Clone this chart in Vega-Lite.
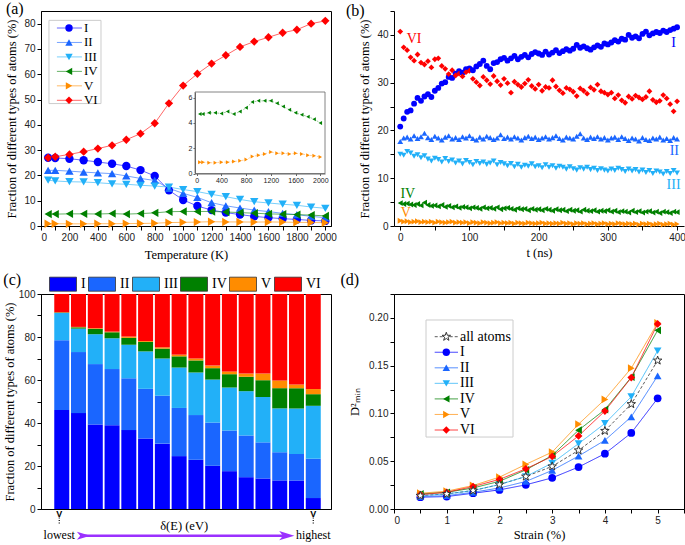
{
"$schema": "https://vega.github.io/schema/vega-lite/v6.json",
"padding": {"left": 2, "top": 0, "right": 0, "bottom": 0},
"autosize": {"type": "pad"},
"columns": 2,
"bounds": "flush",
"spacing": {"row": 68, "column": 63},
"resolve": {"scale": {"color": "independent", "shape": "independent", "strokeDash": "independent"}},
"datasets": {
"a": [
{"T":50,"I":27.0,"II":22.0,"III":18.1,"IV":4.7,"V":0.9,"VI":27.0},
{"T":100,"I":26.9,"II":22.0,"III":17.8,"IV":4.7,"V":0.9,"VI":27.4},
{"T":200,"I":26.6,"II":21.7,"III":17.5,"IV":4.8,"V":0.85,"VI":28.3},
{"T":300,"I":26.0,"II":21.3,"III":17.4,"IV":4.8,"V":0.85,"VI":29.4},
{"T":400,"I":25.3,"II":21.0,"III":17.1,"IV":4.75,"V":0.9,"VI":30.6},
{"T":500,"I":24.6,"II":20.7,"III":16.7,"IV":4.9,"V":0.9,"VI":31.9},
{"T":600,"I":23.7,"II":19.8,"III":16.5,"IV":4.7,"V":0.95,"VI":34.1},
{"T":700,"I":22.1,"II":18.8,"III":16.1,"IV":4.9,"V":1.0,"VI":36.5},
{"T":800,"I":19.8,"II":18.0,"III":15.8,"IV":5.2,"V":1.1,"VI":40.6},
{"T":900,"I":14.1,"II":14.9,"III":15.4,"IV":5.65,"V":1.35,"VI":48.5},
{"T":1000,"I":10.3,"II":12.9,"III":14.4,"IV":5.75,"V":1.45,"VI":55.5},
{"T":1100,"I":7.9,"II":11.3,"III":13.6,"IV":5.75,"V":1.55,"VI":60.2},
{"T":1200,"I":6.3,"II":9.2,"III":12.5,"IV":5.75,"V":1.7,"VI":64.2},
{"T":1300,"I":5.3,"II":8.0,"III":11.6,"IV":5.55,"V":1.6,"VI":67.5},
{"T":1400,"I":4.5,"II":7.1,"III":10.5,"IV":5.3,"V":1.6,"VI":70.8},
{"T":1500,"I":3.8,"II":6.3,"III":9.6,"IV":5.05,"V":1.55,"VI":72.9},
{"T":1600,"I":3.3,"II":5.7,"III":9.1,"IV":4.8,"V":1.6,"VI":74.6},
{"T":1700,"I":2.9,"II":5.0,"III":8.6,"IV":4.65,"V":1.55,"VI":76.4},
{"T":1800,"I":2.6,"II":4.5,"III":8.2,"IV":4.5,"V":1.45,"VI":77.6},
{"T":1900,"I":2.2,"II":3.8,"III":7.5,"IV":4.3,"V":1.4,"VI":80.0},
{"T":2000,"I":2.0,"II":3.3,"III":7.0,"IV":4.0,"V":1.3,"VI":81.1}
],
"b": [
{"t":0,"I":20.8,"II":17.7,"III":15.0,"IV":4.8,"V":1.1,"VI":40.7},
{"t":5,"I":22.5,"II":18.4,"III":14.8,"IV":4.6,"V":0.9,"VI":37.4},
{"t":10,"I":23.9,"II":18.6,"III":15.6,"IV":4.7,"V":1.0,"VI":36.8},
{"t":15,"I":24.2,"II":18.2,"III":15.3,"IV":4.5,"V":0.8,"VI":35.3},
{"t":20,"I":25.6,"II":18.9,"III":14.6,"IV":4.4,"V":0.9,"VI":34.6},
{"t":25,"I":26.8,"II":18.3,"III":14.9,"IV":4.6,"V":1.0,"VI":35.9},
{"t":30,"I":26.2,"II":18.7,"III":14.3,"IV":4.3,"V":0.8,"VI":34.2},
{"t":35,"I":27.1,"II":19.4,"III":14.7,"IV":4.9,"V":0.9,"VI":33.8},
{"t":40,"I":27.6,"II":18.5,"III":14.0,"IV":4.4,"V":0.8,"VI":34.5},
{"t":45,"I":27.0,"II":18.1,"III":13.6,"IV":4.2,"V":0.9,"VI":33.2},
{"t":50,"I":28.3,"II":18.8,"III":14.2,"IV":4.3,"V":0.7,"VI":34.9},
{"t":55,"I":28.9,"II":18.4,"III":13.9,"IV":4.1,"V":0.9,"VI":35.1},
{"t":60,"I":29.8,"II":18.0,"III":13.4,"IV":4.4,"V":0.8,"VI":33.5},
{"t":65,"I":30.1,"II":18.6,"III":14.1,"IV":4.0,"V":0.7,"VI":32.9},
{"t":70,"I":31.2,"II":18.9,"III":13.5,"IV":4.2,"V":0.8,"VI":31.8},
{"t":75,"I":31.0,"II":18.2,"III":13.8,"IV":3.9,"V":0.9,"VI":32.6},
{"t":80,"I":31.9,"II":18.5,"III":13.2,"IV":4.1,"V":0.7,"VI":31.5},
{"t":85,"I":32.4,"II":18.1,"III":13.6,"IV":3.8,"V":0.8,"VI":31.9},
{"t":90,"I":32.1,"II":18.7,"III":13.0,"IV":4.0,"V":0.7,"VI":31.3},
{"t":95,"I":32.8,"II":18.4,"III":13.7,"IV":3.9,"V":0.8,"VI":32.2},
{"t":100,"I":33.0,"II":18.9,"III":13.3,"IV":3.7,"V":0.6,"VI":32.5},
{"t":105,"I":32.6,"II":18.3,"III":12.8,"IV":3.9,"V":0.8,"VI":30.8},
{"t":110,"I":33.4,"II":18.0,"III":13.5,"IV":3.8,"V":0.7,"VI":30.1},
{"t":115,"I":33.9,"II":18.6,"III":13.1,"IV":3.6,"V":0.6,"VI":29.4},
{"t":120,"I":34.6,"II":18.2,"III":13.4,"IV":3.9,"V":0.8,"VI":31.2},
{"t":125,"I":33.5,"II":18.8,"III":12.9,"IV":3.7,"V":0.7,"VI":30.5},
{"t":130,"I":32.8,"II":18.5,"III":13.2,"IV":3.8,"V":0.6,"VI":29.7},
{"t":135,"I":34.1,"II":18.1,"III":13.6,"IV":3.6,"V":0.7,"VI":31.4},
{"t":140,"I":34.3,"II":18.4,"III":12.8,"IV":3.9,"V":0.8,"VI":30.3},
{"t":145,"I":34.9,"II":19.1,"III":13.3,"IV":3.5,"V":0.6,"VI":29.5},
{"t":150,"I":35.2,"II":18.3,"III":13.0,"IV":3.7,"V":0.7,"VI":30.8},
{"t":155,"I":34.6,"II":18.6,"III":12.6,"IV":3.8,"V":0.6,"VI":29.9},
{"t":160,"I":35.1,"II":18.2,"III":13.1,"IV":3.6,"V":0.7,"VI":27.9},
{"t":165,"I":35.6,"II":18.7,"III":12.4,"IV":3.4,"V":0.5,"VI":30.2},
{"t":170,"I":34.9,"II":18.4,"III":12.9,"IV":3.7,"V":0.7,"VI":29.6},
{"t":175,"I":35.4,"II":18.0,"III":12.3,"IV":3.5,"V":0.6,"VI":29.1},
{"t":180,"I":35.8,"II":18.5,"III":12.7,"IV":3.6,"V":0.5,"VI":29.8},
{"t":185,"I":35.3,"II":18.8,"III":12.5,"IV":3.3,"V":0.7,"VI":30.6},
{"t":190,"I":36.0,"II":18.3,"III":13.0,"IV":3.6,"V":0.6,"VI":29.3},
{"t":195,"I":36.4,"II":18.6,"III":12.4,"IV":3.4,"V":0.5,"VI":28.7},
{"t":200,"I":36.1,"II":18.1,"III":12.6,"IV":3.5,"V":0.6,"VI":29.6},
{"t":205,"I":35.8,"II":18.4,"III":12.2,"IV":3.3,"V":0.7,"VI":28.3},
{"t":210,"I":36.5,"II":18.7,"III":12.8,"IV":3.6,"V":0.5,"VI":29.1},
{"t":215,"I":35.9,"II":18.2,"III":12.3,"IV":3.4,"V":0.6,"VI":28.9},
{"t":220,"I":36.3,"II":18.5,"III":12.6,"IV":3.2,"V":0.5,"VI":30.5},
{"t":225,"I":36.8,"II":18.9,"III":12.1,"IV":3.5,"V":0.6,"VI":29.2},
{"t":230,"I":36.2,"II":18.3,"III":12.5,"IV":3.3,"V":0.5,"VI":28.4},
{"t":235,"I":36.6,"II":18.0,"III":12.3,"IV":3.4,"V":0.7,"VI":27.8},
{"t":240,"I":37.0,"II":18.6,"III":11.9,"IV":3.1,"V":0.5,"VI":28.9},
{"t":245,"I":36.7,"II":18.4,"III":12.4,"IV":3.4,"V":0.6,"VI":28.6},
{"t":250,"I":37.1,"II":18.2,"III":12.0,"IV":3.2,"V":0.4,"VI":28.1},
{"t":255,"I":37.9,"II":18.8,"III":11.7,"IV":3.3,"V":0.6,"VI":27.2},
{"t":260,"I":37.3,"II":19.3,"III":12.2,"IV":3.0,"V":0.5,"VI":28.8},
{"t":265,"I":37.6,"II":18.4,"III":11.9,"IV":3.4,"V":0.6,"VI":28.3},
{"t":270,"I":37.2,"II":18.1,"III":12.3,"IV":3.2,"V":0.4,"VI":27.7},
{"t":275,"I":36.9,"II":18.6,"III":11.8,"IV":3.1,"V":0.5,"VI":29.0},
{"t":280,"I":37.4,"II":18.3,"III":12.1,"IV":3.3,"V":0.6,"VI":28.5},
{"t":285,"I":37.8,"II":18.7,"III":11.6,"IV":3.0,"V":0.4,"VI":29.6},
{"t":290,"I":37.5,"II":18.2,"III":12.0,"IV":3.2,"V":0.5,"VI":28.2},
{"t":295,"I":38.2,"II":18.5,"III":11.7,"IV":3.1,"V":0.6,"VI":27.9},
{"t":300,"I":38.0,"II":18.0,"III":11.5,"IV":3.3,"V":0.4,"VI":27.5},
{"t":305,"I":38.4,"II":18.4,"III":11.9,"IV":3.0,"V":0.5,"VI":27.9},
{"t":310,"I":38.9,"II":18.6,"III":11.6,"IV":3.2,"V":0.4,"VI":26.7},
{"t":315,"I":38.6,"II":18.1,"III":12.1,"IV":2.9,"V":0.6,"VI":27.4},
{"t":320,"I":39.2,"II":18.7,"III":11.8,"IV":3.1,"V":0.5,"VI":26.3},
{"t":325,"I":39.0,"II":18.3,"III":11.4,"IV":3.0,"V":0.4,"VI":25.8},
{"t":330,"I":40.0,"II":17.9,"III":11.9,"IV":2.8,"V":0.5,"VI":27.1},
{"t":335,"I":39.4,"II":18.4,"III":11.5,"IV":3.2,"V":0.4,"VI":26.6},
{"t":340,"I":39.7,"II":18.2,"III":11.8,"IV":2.9,"V":0.5,"VI":27.3},
{"t":345,"I":39.3,"II":17.8,"III":11.3,"IV":3.1,"V":0.3,"VI":26.9},
{"t":350,"I":40.2,"II":18.5,"III":11.7,"IV":2.8,"V":0.5,"VI":26.5},
{"t":355,"I":40.7,"II":18.1,"III":11.2,"IV":3.0,"V":0.4,"VI":27.0},
{"t":360,"I":39.9,"II":17.9,"III":11.6,"IV":3.1,"V":0.5,"VI":28.2},
{"t":365,"I":40.3,"II":18.4,"III":11.0,"IV":2.8,"V":0.3,"VI":26.4},
{"t":370,"I":40.6,"II":18.2,"III":11.5,"IV":3.0,"V":0.4,"VI":25.9},
{"t":375,"I":40.4,"II":18.6,"III":11.3,"IV":2.7,"V":0.5,"VI":26.2},
{"t":380,"I":40.9,"II":18.0,"III":10.9,"IV":3.0,"V":0.3,"VI":27.4},
{"t":385,"I":40.6,"II":18.3,"III":11.4,"IV":2.9,"V":0.4,"VI":26.7},
{"t":390,"I":41.0,"II":17.9,"III":11.0,"IV":2.7,"V":0.5,"VI":25.5},
{"t":395,"I":41.3,"II":18.5,"III":11.6,"IV":3.0,"V":0.3,"VI":24.0},
{"t":400,"I":41.6,"II":18.2,"III":11.1,"IV":2.9,"V":0.4,"VI":26.1}
],
"c": [
{"b":1,"I":46.0,"II":32.5,"III":12.7,"IV":0.2,"V":0.1,"VI":8.5},
{"b":2,"I":44.6,"II":28.4,"III":10.9,"IV":0.6,"V":0.2,"VI":15.3},
{"b":3,"I":39.3,"II":28.1,"III":13.9,"IV":2.5,"V":0.3,"VI":15.9},
{"b":4,"I":39.0,"II":26.1,"III":14.3,"IV":2.8,"V":0.3,"VI":17.5},
{"b":5,"I":36.7,"II":24.1,"III":15.6,"IV":3.2,"V":0.6,"VI":19.8},
{"b":6,"I":32.8,"II":23.1,"III":17.4,"IV":4.4,"V":0.4,"VI":21.9},
{"b":7,"I":30.4,"II":22.3,"III":17.3,"IV":4.6,"V":0.6,"VI":24.8},
{"b":8,"I":24.6,"II":22.4,"III":18.8,"IV":5.2,"V":0.8,"VI":28.2},
{"b":9,"I":22.9,"II":20.8,"III":19.8,"IV":5.6,"V":0.9,"VI":30.0},
{"b":10,"I":20.1,"II":20.1,"III":20.0,"IV":5.3,"V":1.2,"VI":33.3},
{"b":11,"I":17.6,"II":18.9,"III":20.0,"IV":6.2,"V":1.3,"VI":36.0},
{"b":12,"I":14.8,"II":19.4,"III":20.6,"IV":6.7,"V":1.5,"VI":37.0},
{"b":13,"I":14.2,"II":16.8,"III":21.1,"IV":7.8,"V":3.1,"VI":37.0},
{"b":14,"I":13.3,"II":13.1,"III":20.4,"IV":9.4,"V":3.6,"VI":40.2},
{"b":15,"I":13.3,"II":12.3,"III":21.2,"IV":9.4,"V":1.7,"VI":42.1},
{"b":16,"I":5.1,"II":18.3,"III":24.6,"IV":5.4,"V":2.4,"VI":44.2}
],
"d": [
{"x":0.5,"all atoms":0.014,"I":0.0123,"II":0.013,"III":0.014,"IV":0.0158,"V":0.0165,"VI":0.015},
{"x":1.0,"all atoms":0.0158,"I":0.013,"II":0.014,"III":0.0158,"IV":0.0175,"V":0.0186,"VI":0.0175},
{"x":1.5,"all atoms":0.0193,"I":0.0165,"II":0.0175,"III":0.0193,"IV":0.022,"V":0.0246,"VI":0.0235},
{"x":2.0,"all atoms":0.0256,"I":0.020,"II":0.022,"III":0.0256,"IV":0.029,"V":0.0333,"VI":0.031},
{"x":2.5,"all atoms":0.034,"I":0.0253,"II":0.0288,"III":0.034,"IV":0.041,"V":0.0467,"VI":0.042},
{"x":3.0,"all atoms":0.0446,"I":0.0326,"II":0.0404,"III":0.048,"IV":0.056,"V":0.0596,"VI":0.055},
{"x":3.5,"all atoms":0.0614,"I":0.0439,"II":0.0554,"III":0.0684,"IV":0.0825,"V":0.0888,"VI":0.0765},
{"x":4.0,"all atoms":0.0818,"I":0.0579,"II":0.0719,"III":0.0895,"IV":0.104,"V":0.1147,"VI":0.1025},
{"x":4.5,"all atoms":0.1098,"I":0.0796,"II":0.0965,"III":0.1175,"IV":0.1379,"V":0.1474,"VI":0.1375},
{"x":5.0,"all atoms":0.1554,"I":0.1158,"II":0.1393,"III":0.1656,"IV":0.187,"V":0.1947,"VI":0.1937}
],
"series6": [{"s":"I"},{"s":"II"},{"s":"III"},{"s":"IV"},{"s":"V"},{"s":"VI"}],
"series7": [{"s":"all atoms"},{"s":"I"},{"s":"II"},{"s":"III"},{"s":"IV"},{"s":"V"},{"s":"VI"}]
},
"concat": [
{
"title": {"text": "(a)", "offset": -6},
"width": 290, "height": 215,
"layer": [
 {
  "encoding": {"x": {"type": "quantitative", "scale": {"domain": [0, 2040], "nice": false}, "axis": {"title": "Temperature (K)", "values": [0,100,200,300,400,500,600,700,800,900,1000,1100,1200,1300,1400,1500,1600,1700,1800,1900,2000], "format": "d", "labelExpr": "datum.value % 200 === 0 ? datum.label : ''", "titlePadding": 6}}},
  "layer": [
   {
    "encoding": {"y": {"type": "quantitative", "scale": {"domain": [0, 85], "nice": false}, "axis": {"title": "Fraction of different types of atoms (%)", "values": [0,10,20,30,40,50,60,70,80], "titlePadding": 5}}},
    "layer": [
     {"data": {"values": [{}]}, "mark": {"type": "rect", "fill": "white", "stroke": "#cccccc", "strokeWidth": 1},
      "encoding": {"x": {"datum": 56}, "x2": {"datum": 422}, "y": {"datum": 81.3}, "y2": {"datum": 48.4}}},
     {"data": {"name": "a"}, "transform": [{"fold": ["I","II","III","IV","V","VI"], "as": ["s","v"]}],
      "mark": {"type": "line", "strokeWidth": 1, "opacity": 0.6},
      "encoding": {"x": {"field": "T"}, "y": {"field": "v"},
        "color": {"field": "s", "type": "nominal", "scale": {"domain": ["I","II","III","IV","V","VI"], "range": ["#0000ff","#1a66ff","#22b0f8","#008000","#ff8c00","#ff0000"]}, "legend": null}}},
     {"data": {"name": "a"}, "transform": [{"fold": ["I","II","III","IV","V","VI"], "as": ["s","v"]}],
      "mark": {"type": "point", "filled": true, "size": 70, "opacity": 1},
      "encoding": {"x": {"field": "T"}, "y": {"field": "v"},
        "color": {"field": "s", "type": "nominal", "scale": {"domain": ["I","II","III","IV","V","VI"], "range": ["#0000ff","#1a66ff","#22b0f8","#008000","#ff8c00","#ff0000"]}, "legend": null},
        "shape": {"field": "s", "type": "nominal", "scale": {"domain": ["I","II","III","IV","V","VI"], "range": ["circle","triangle-up","triangle-down","triangle-left","triangle-right","diamond"]}, "legend": null}}}
    ]
   },
   {
    "data": {"name": "series6"},
    "encoding": {
      "y": {"field": "s", "type": "nominal", "scale": {"type": "point", "domain": ["I","II","III","IV","V","VI"], "range": [17, 89.3], "padding": 0}, "axis": null},
      "color": {"field": "s", "type": "nominal", "scale": {"domain": ["I","II","III","IV","V","VI"], "range": ["#0000ff","#1a66ff","#22b0f8","#008000","#ff8c00","#ff0000"]}, "legend": null}
    },
    "layer": [
     {"mark": {"type": "rule", "strokeWidth": 1, "opacity": 0.6}, "encoding": {"x": {"datum": 112}, "x2": {"datum": 288}}},
     {"mark": {"type": "point", "filled": true, "size": 55, "opacity": 1},
      "encoding": {"x": {"datum": 197},
        "shape": {"field": "s", "type": "nominal", "scale": {"domain": ["I","II","III","IV","V","VI"], "range": ["circle","triangle-up","triangle-down","triangle-left","triangle-right","diamond"]}, "legend": null}}},
     {"mark": {"type": "text", "align": "left", "baseline": "middle", "font": "Liberation Serif", "fontSize": 13},
      "encoding": {"x": {"datum": 302}, "text": {"field": "s"}, "color": {"value": "black"}}}
    ]
   }
  ],
  "resolve": {"scale": {"y": "independent"}}
 },
 {
  "layer": [
   {"data": {"values": [{}]},
    "mark": {"type": "rect", "fill": "white", "stroke": "#666666", "strokeWidth": 0.8},
    "encoding": {
     "x": {"datum": -28, "type": "quantitative", "scale": {"domain": [-28, 2076], "range": [154, 284], "nice": false, "zero": false}, "axis": {"orient": "bottom", "offset": -52.5, "values": [0,400,800,1200,1600,2000], "format": "d", "labelFontSize": 7, "tickSize": 2, "labelPadding": 1, "title": null, "zindex": 1, "domainColor": "#666666", "tickColor": "#666666"}},
     "x2": {"datum": 2076},
     "y": {"datum": 0, "type": "quantitative", "scale": {"domain": [0, 6.45], "range": [162.5, 81], "nice": false, "zero": false}, "axis": {"orient": "left", "offset": -154, "values": [0,2,4,6], "labelFontSize": 7, "tickSize": 2, "labelPadding": 1, "title": null, "zindex": 1, "domainColor": "#666666", "tickColor": "#666666"}},
     "y2": {"datum": 6.45}
    }},
   {"data": {"name": "a"},
    "transform": [{"fold": ["IV","V"], "as": ["s","v"]}],
    "encoding": {
     "x": {"field": "T", "type": "quantitative", "scale": {"domain": [-28, 2076], "range": [154, 284], "nice": false, "zero": false}, "axis": {"orient": "bottom", "offset": -52.5, "values": [0,400,800,1200,1600,2000], "format": "d", "labelFontSize": 7, "tickSize": 2, "labelPadding": 1, "title": null, "zindex": 1, "domainColor": "#666666", "tickColor": "#666666"}},
     "y": {"field": "v", "type": "quantitative", "scale": {"domain": [0, 6.45], "range": [162.5, 81], "nice": false, "zero": false}, "axis": {"orient": "left", "offset": -154, "values": [0,2,4,6], "labelFontSize": 7, "tickSize": 2, "labelPadding": 1, "title": null, "zindex": 1, "domainColor": "#666666", "tickColor": "#666666"}},
     "color": {"field": "s", "type": "nominal", "scale": {"domain": ["IV","V"], "range": ["#008000","#ff8c00"]}, "legend": null}
    },
    "layer": [
     {"mark": {"type": "line", "strokeWidth": 0.8, "opacity": 0.5, "strokeDash": [2, 1.5]}},
     {"mark": {"type": "point", "filled": true, "size": 16, "opacity": 1},
      "encoding": {"shape": {"field": "s", "type": "nominal", "scale": {"domain": ["IV","V"], "range": ["triangle-left","triangle-right"]}, "legend": null}}}
    ]}
  ]
 }
],
"resolve": {"scale": {"x": "independent", "y": "independent", "color": "independent", "shape": "independent"}, "axis": {"x": "independent", "y": "independent"}}
},
{
"title": {"text": "(b)", "offset": -8, "dx": -13},
"width": 290, "height": 215,
"view": {"stroke": null},
"encoding": {
 "x": {"type": "quantitative", "scale": {"domain": [-9, 410], "nice": false, "zero": false}, "axis": {"title": "t (ns)", "values": [0,50,100,150,200,250,300,350,400], "labelExpr": "datum.value % 100 === 0 ? datum.label : ''", "titlePadding": 4}},
 "y": {"type": "quantitative", "scale": {"domain": [0, 45], "nice": false}, "axis": {"title": "Fraction of different types of atoms (%)", "values": [0,5,10,15,20,25,30,35,40,45], "labelExpr": "datum.value % 10 === 0 ? datum.label : ''", "titlePadding": 5}}
},
"layer": [
 {"data": {"name": "b"},
  "transform": [{"fold": ["I","II","III","IV","V","VI"], "as": ["s","v"]}],
  "mark": {"type": "point", "filled": true, "size": 34, "opacity": 1},
  "encoding": {
   "x": {"field": "t"},
   "y": {"field": "v"},
   "color": {"field": "s", "type": "nominal", "scale": {"domain": ["I","II","III","IV","V","VI"], "range": ["#0000ff","#1a66ff","#22b0f8","#008000","#ff8c00","#ff0000"]}, "legend": null},
   "shape": {"field": "s", "type": "nominal", "scale": {"domain": ["I","II","III","IV","V","VI"], "range": ["circle","triangle-up","triangle-down","triangle-left","triangle-right","diamond"]}, "legend": null}
  }},
 {"data": {"values": [{}]}, "mark": {"type": "text", "text": "VI", "color": "#ff0000", "font": "Liberation Serif", "fontSize": 14}, "encoding": {"x": {"datum": 20}, "y": {"datum": 39.2}}},
 {"data": {"values": [{}]}, "mark": {"type": "text", "text": "I", "color": "#0000ff", "font": "Liberation Serif", "fontSize": 14}, "encoding": {"x": {"datum": 395}, "y": {"datum": 38.4}}},
 {"data": {"values": [{}]}, "mark": {"type": "text", "text": "II", "color": "#1a66ff", "font": "Liberation Serif", "fontSize": 14}, "encoding": {"x": {"datum": 396}, "y": {"datum": 15.6}}},
 {"data": {"values": [{}]}, "mark": {"type": "text", "text": "III", "color": "#22b0f8", "font": "Liberation Serif", "fontSize": 14}, "encoding": {"x": {"datum": 395}, "y": {"datum": 8.5}}},
 {"data": {"values": [{}]}, "mark": {"type": "text", "text": "IV", "color": "#008000", "font": "Liberation Serif", "fontSize": 14}, "encoding": {"x": {"datum": 11}, "y": {"datum": 6.65}}},
 {"data": {"values": [{}]}, "mark": {"type": "text", "text": "V", "color": "#ff8c00", "font": "Liberation Serif", "fontSize": 14}, "encoding": {"x": {"datum": 8}, "y": {"datum": 2.65}}}
]
},
{
"title": {"text": "(c)", "offset": -18},
"width": 290, "height": 215,
"encoding": {
 "x": {"type": "quantitative", "scale": {"domain": [0.06, 16.76], "nice": false, "zero": false}, "axis": {"title": null, "labels": false, "ticks": false}},
 "y": {"type": "quantitative", "scale": {"domain": [0, 100], "nice": false}, "axis": {"title": "Fraction of different types of atoms (%)", "values": [0,10,20,30,40,50,60,70,80,90,100], "labelExpr": "datum.value % 20 === 0 ? datum.label : ''", "titlePadding": 2}}
},
"layer": [
 {"data": {"name": "c"},
  "transform": [{"fold": ["I","II","III","IV","V","VI"], "as": ["s","v"]}],
  "mark": {"type": "bar", "size": 15},
  "encoding": {
   "x": {"field": "b"},
   "y": {"field": "v", "stack": "zero"},
   "order": {"field": "s", "sort": "ascending"},
   "color": {"field": "s", "type": "nominal", "scale": {"domain": ["I","II","III","IV","V","VI"], "range": ["#0000ff","#1a66ff","#22b0f8","#008000","#ff8c00","#ff0000"]},
     "legend": {"title": null, "orient": "none", "legendX": 8, "legendY": -24, "direction": "horizontal", "columns": 6, "symbolType": "M-1,-0.52H1V0.52H-1Z", "symbolSize": 729, "symbolStrokeColor": "#333333", "symbolStrokeWidth": 0.8, "symbolOpacity": 1, "labelFontSize": 14, "labelOffset": 4, "columnPadding": 0, "padding": 0}}
  }},
 {"data": {"values": [{}]}, "mark": {"type": "text", "text": "V", "font": "Liberation Sans", "fontWeight": "bold", "fontSize": 9}, "encoding": {"x": {"datum": 0.85}, "y": {"datum": -2.4}}},
 {"data": {"values": [{}]}, "mark": {"type": "text", "text": "V", "font": "Liberation Sans", "fontWeight": "bold", "fontSize": 9}, "encoding": {"x": {"datum": 16}, "y": {"datum": -2.4}}},
 {"data": {"values": [{}]}, "mark": {"type": "rule", "strokeDash": [1, 1.5], "strokeWidth": 1.2, "color": "black"}, "encoding": {"x": {"datum": 0.85}, "y": {"datum": -4}, "y2": {"datum": -7.2}}},
 {"data": {"values": [{}]}, "mark": {"type": "rule", "strokeDash": [1, 1.5], "strokeWidth": 1.2, "color": "black"}, "encoding": {"x": {"datum": 16}, "y": {"datum": -4}, "y2": {"datum": -7.2}}},
 {"data": {"values": [{}]}, "mark": {"type": "text", "text": "lowest", "font": "Liberation Serif", "fontSize": 12}, "encoding": {"x": {"datum": 0.85}, "y": {"datum": -12.3}}},
 {"data": {"values": [{}]}, "mark": {"type": "text", "text": "highest", "font": "Liberation Serif", "fontSize": 12}, "encoding": {"x": {"datum": 16}, "y": {"datum": -12.3}}},
 {"data": {"values": [{}]}, "mark": {"type": "text", "text": "δ(E) (eV)", "font": "Liberation Serif", "fontSize": 12.5}, "encoding": {"x": {"datum": 8.3}, "y": {"datum": -7.9}}},
 {"data": {"values": [{}]}, "mark": {"type": "rule", "strokeWidth": 2.5, "color": "#9b30ff"}, "encoding": {"x": {"datum": 2.1}, "x2": {"datum": 14.3}, "y": {"datum": -12.4}}},
 {"data": {"values": [{}]}, "mark": {"type": "point", "shape": "M1,0L-1,-0.6L-0.5,0L-1,0.6Z", "filled": true, "size": 230, "color": "#9b30ff", "opacity": 1}, "encoding": {"x": {"datum": 14.42}, "y": {"datum": -12.4}}},
 {"data": {"values": [{}]}, "mark": {"type": "point", "shape": "M1,0L-1,-0.6L-0.5,0L-1,0.6Z", "filled": true, "size": 180, "color": "#9b30ff", "opacity": 1}, "encoding": {"x": {"datum": 2.3}, "y": {"datum": -12.4}}}
]
},
{
"title": {"text": "(d)", "offset": 6, "dx": -8},
"width": 290, "height": 215,
"encoding": {
 "x": {"type": "quantitative", "scale": {"domain": [0, 5.5], "nice": false}, "axis": {"title": "Strain (%)", "values": [0,0.5,1,1.5,2,2.5,3,3.5,4,4.5,5,5.5], "labelExpr": "datum.value % 1 === 0 ? format(datum.value, 'd') : ''", "titlePadding": 3}}
},
"layer": [
 {
  "encoding": {"y": {"type": "quantitative", "scale": {"domain": [0, 0.225], "nice": false}, "axis": {"title": "D²ₘᵢₙ", "values": [0,0.025,0.05,0.075,0.1,0.125,0.15,0.175,0.2,0.225], "labelExpr": "abs(datum.value*20 - round(datum.value*20)) < 0.000001 ? format(datum.value, '.2f') : ''", "titlePadding": 7}}},
  "layer": [
   {"data": {"values": [{}]}, "mark": {"type": "rect", "fill": "white", "stroke": "#cccccc", "strokeWidth": 1},
    "encoding": {"x": {"datum": 0.607}, "x2": {"datum": 2.257}, "y": {"datum": 0.1978}, "y2": {"datum": 0.0753}}},
   {"data": {"name": "d"}, "transform": [{"fold": ["all atoms","I","II","III","IV","V","VI"], "as": ["s","v"]}],
    "mark": {"type": "line", "strokeWidth": 1, "opacity": 0.8},
    "encoding": {"x": {"field": "x"}, "y": {"field": "v"},
     "color": {"field": "s", "type": "nominal", "scale": {"domain": ["all atoms","I","II","III","IV","V","VI"], "range": ["#333333","#0000ff","#1a66ff","#22b0f8","#008000","#ff8c00","#ff0000"]}, "legend": null},
     "strokeDash": {"field": "s", "type": "nominal", "scale": {"domain": ["all atoms","I","II","III","IV","V","VI"], "range": [[3,2],[1,0],[1,0],[1,0],[1,0],[1,0],[1,0]]}, "legend": null}}},
   {"data": {"name": "d"}, "transform": [{"fold": ["I","II","III","IV","V","VI"], "as": ["s","v"]}],
    "mark": {"type": "point", "filled": true, "size": 60, "opacity": 1},
    "encoding": {"x": {"field": "x"}, "y": {"field": "v"},
     "color": {"field": "s", "type": "nominal", "scale": {"domain": ["all atoms","I","II","III","IV","V","VI"], "range": ["#333333","#0000ff","#1a66ff","#22b0f8","#008000","#ff8c00","#ff0000"]}, "legend": null},
     "shape": {"field": "s", "type": "nominal", "scale": {"domain": ["I","II","III","IV","V","VI"], "range": ["circle","triangle-up","triangle-down","triangle-left","triangle-right","diamond"]}, "legend": null}}},
   {"data": {"name": "d"}, "transform": [{"fold": ["all atoms"], "as": ["s","v"]}],
    "mark": {"type": "point", "filled": true, "fill": "white", "stroke": "#333333", "strokeWidth": 1, "size": 80, "opacity": 1, "shape": "M0,-1L0.235,-0.324L0.951,-0.309L0.38,0.124L0.588,0.809L0,0.4L-0.588,0.809L-0.38,0.124L-0.951,-0.309L-0.235,-0.324Z"},
    "encoding": {"x": {"field": "x"}, "y": {"field": "v"}}}
  ]
 },
 {
  "data": {"name": "series7"},
  "encoding": {
   "y": {"field": "s", "type": "nominal", "scale": {"type": "point", "domain": ["all atoms","I","II","III","IV","V","VI"], "range": [42.7, 136], "padding": 0}, "axis": null}
  },
  "layer": [
   {"mark": {"type": "rule", "strokeWidth": 1, "opacity": 0.8},
    "encoding": {"x": {"datum": 0.772}, "x2": {"datum": 1.214},
     "color": {"field": "s", "type": "nominal", "scale": {"domain": ["all atoms","I","II","III","IV","V","VI"], "range": ["#333333","#0000ff","#1a66ff","#22b0f8","#008000","#ff8c00","#ff0000"]}, "legend": null},
     "strokeDash": {"field": "s", "type": "nominal", "scale": {"domain": ["all atoms","I","II","III","IV","V","VI"], "range": [[3,2],[1,0],[1,0],[1,0],[1,0],[1,0],[1,0]]}, "legend": null}}},
   {"transform": [{"filter": "datum.s !== 'all atoms'"}],
    "mark": {"type": "point", "filled": true, "size": 55, "opacity": 1},
    "encoding": {"x": {"datum": 0.992},
     "color": {"field": "s", "type": "nominal", "scale": {"domain": ["all atoms","I","II","III","IV","V","VI"], "range": ["#333333","#0000ff","#1a66ff","#22b0f8","#008000","#ff8c00","#ff0000"]}, "legend": null},
     "shape": {"field": "s", "type": "nominal", "scale": {"domain": ["I","II","III","IV","V","VI"], "range": ["circle","triangle-up","triangle-down","triangle-left","triangle-right","diamond"]}, "legend": null}}},
   {"transform": [{"filter": "datum.s === 'all atoms'"}],
    "mark": {"type": "point", "filled": true, "fill": "white", "stroke": "#333333", "strokeWidth": 1, "size": 80, "opacity": 1, "shape": "M0,-1L0.235,-0.324L0.951,-0.309L0.38,0.124L0.588,0.809L0,0.4L-0.588,0.809L-0.38,0.124L-0.951,-0.309L-0.235,-0.324Z"},
    "encoding": {"x": {"datum": 0.992}}},
   {"mark": {"type": "text", "align": "left", "baseline": "middle", "font": "Liberation Serif", "fontSize": 14, "color": "black"},
    "encoding": {"x": {"datum": 1.252}, "text": {"field": "s"}}}
  ]
 }
],
"resolve": {"scale": {"y": "independent"}}
}
],
"config": {
 "view": {"stroke": "black", "strokeWidth": 1},
 "axis": {"grid": false, "domainColor": "black", "tickColor": "black", "labelFont": "Liberation Sans", "labelFontSize": 10, "labelColor": "#222222", "titleFont": "Liberation Serif", "titleFontSize": 12.5, "titleFontWeight": "normal", "titleColor": "black", "tickSize": 4, "labelPadding": 2},
 "legend": {"labelFont": "Liberation Serif", "labelFontSize": 13, "labelColor": "black"},
 "title": {"font": "Liberation Serif", "fontSize": 16, "fontWeight": "normal", "anchor": "start", "frame": "bounds", "color": "black"}
}
}
